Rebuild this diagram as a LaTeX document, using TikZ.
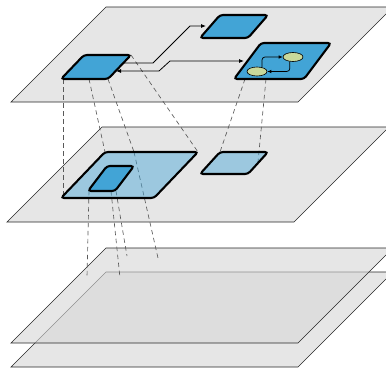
\documentclass[tikz,border=0pt]{standalone}
\usepackage{tikz}
\usetikzlibrary{arrows.meta,shapes.geometric}
\pgfdeclarelayer{bg}
\pgfsetlayers{bg,main}
\definecolor{tileblue}{HTML}{42A4D6}
\definecolor{statefill}{HTML}{C9D99B}
\tikzset{
    plane/.style={draw=black!85, line width=.7pt, fill=black!16, fill opacity=.6},
    tile/.style={draw, line width=2.1pt, rounded corners=3pt, fill=tileblue},
    ghost/.style={tile, fill opacity=.45},
    proj/.style={draw=black!65, line width=.65pt, dash pattern=on 4.5pt off 3.5pt},
    link/.style={line width=.8pt, -{Latex[length=5pt,width=4pt]}},
    flow/.style={line width=.7pt, rounded corners=3pt, -{Latex[length=4pt,width=3.5pt]}},
    state/.style={ellipse, draw, line width=.6pt, fill=statefill,
        minimum width=20pt, minimum height=9pt, inner sep=0pt}
}
% slanted sheet: lower left corner
\newcommand{\planepath}[1]{(#1) -- ++(287,0) -- ++(95,-95) -- ++(-287,0) -- cycle}
% slanted tile: name, lower left corner, width, slant, depth
\newcommand{\tilepath}[5]{(#2) coordinate (#1-bl) -- ++(#3,0) coordinate (#1-br)
    -- ++(#4,-#5) coordinate (#1-tr) -- ++(-#3,0) coordinate (#1-tl) -- cycle}

\begin{document}
\begin{tikzpicture}[x=1pt, y=-1pt]
  \useasboundingbox (0,0) rectangle (386,372);

  % top sheet
  \draw[tile] \tilepath{a}{61,79}{47}{23}{24};
  \draw[tile] \tilepath{b}{200,38}{48}{20}{23};
  \draw[tile] \tilepath{c}{234,79}{70}{27}{36};

  % middle sheet
  \draw[ghost] \tilepath{d}{61,198}{93}{44}{46};
  \draw[ghost] \tilepath{f}{200,174}{48}{20}{22};
  \draw[tile] \tilepath{e}{88,191}{27}{19}{25};

  \node[state] (st1) at (293,57) {};
  \node[state] (st2) at (257,71.5) {};
  \draw[flow] (st2.40) |- (st1.west);
  \draw[flow] (st1.235) |- (st2.east);

  \coordinate (a-out1) at (124,63);
  \coordinate (a-out2) at (116,71);
  \coordinate (b-in) at (206,26);
  \coordinate (c-in) at (244,61);
  \draw[link] (a-out1) -- ++(29,0) -- ++(37,-37) -- (b-in);
  \draw[link, {Latex[length=5pt,width=4pt]}-{Latex[length=5pt,width=4pt]}]
      (a-out2) -- ++(43,0) -- ++(11,-10) -- (c-in);

  % ends of the dashed drops
  \coordinate (a-p0) at (63,79);
  \coordinate (a-p1) at (89,79);
  \coordinate (c-p1) at (245,79);
  \coordinate (c-p2) at (266,79);
  \coordinate (d-p0) at (63,197);
  \coordinate (d-p1) at (134,152);
  \coordinate (f-p1) at (258,162);
  \coordinate (e-p0) at (89,191);
  \coordinate (e-p1) at (111,191);
  \coordinate (e-p2) at (116,191);
  \coordinate (base1) at (87,277);
  \coordinate (base2) at (120,278);
  \coordinate (base3) at (127,256);
  \coordinate (base4) at (158,258);

  \begin{pgfonlayer}{bg}
    \draw[plane] \planepath{11,367};
    \draw[plane] \planepath{11,343};
    \draw[plane] \planepath{7,222};
    \draw[plane] \planepath{11,102};

    \draw[proj] (a-p0) -- (d-p0);
    \draw[proj] (a-p1) -- (d-tl);
    \draw[proj] (a-br) -- (d-p1);
    \draw[proj] (a-tr) -- (d-tr);
    \draw[proj] (c-p1) -- (f-tl);
    \draw[proj] (c-p2) -- (f-p1);

    \draw[proj] (e-p0) -- (base1);
    \draw[proj] (e-p1) -- (base2);
    \draw[proj] (e-p2) -- (base3);
    \draw[proj] (d-p1) -- (base4);
  \end{pgfonlayer}
\end{tikzpicture}
\end{document}
